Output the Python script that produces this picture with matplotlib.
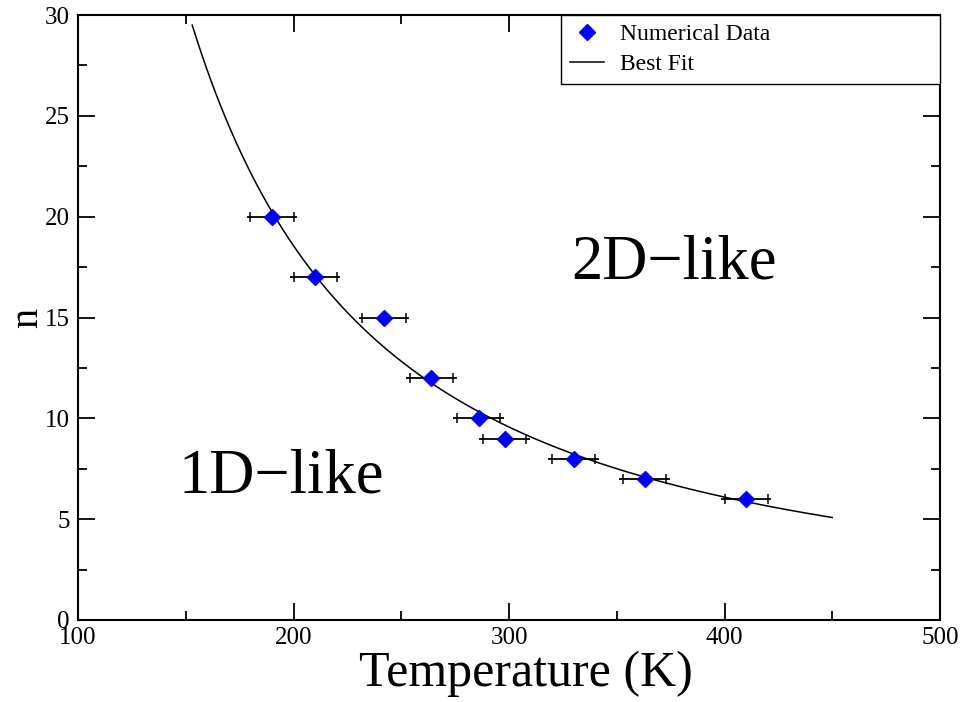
import numpy as np
import matplotlib
matplotlib.use("Agg")
import matplotlib.pyplot as plt
from matplotlib.ticker import MultipleLocator

# Simulated crossover points: temperature (K) vs. n
temperature = [190, 210, 242, 264, 286, 298, 330, 363, 410]
n_values = [20, 17, 15, 12, 10, 9, 8, 7, 6]
temp_err = [10, 10, 10, 10, 10, 10, 10, 10, 10]

# Best fit n = A * (T - T0)**(-p)
fit_A = 29010.0
fit_T0 = 30.0
fit_p = 1.432
fit_T_range = (153.0, 450.0)

region_labels = ["1D\u2212like", "2D\u2212like"]
region_pos = [(146.5, 6.3), (328.8, 16.95)]

plt.rcParams["font.family"] = ["Liberation Serif", "DejaVu Serif"]

fig = plt.figure(figsize=(9.63, 7.02), dpi=100)
ax = fig.add_axes([78 / 963, 1 - 620 / 702, (940 - 78) / 963, (620 - 15) / 702])

# horizontal error bars with short overhang past the caps
T = np.asarray(temperature, float)
N = np.asarray(n_values, float)
E = np.asarray(temp_err, float)
overhang = 1.8
ax.hlines(N, T - E - overhang, T + E + overhang, color="black", lw=1.3, zorder=2)
ax.plot(T - E, N, ls="none", marker="|", ms=7.5, mew=1.1, color="black", zorder=2)
ax.plot(T + E, N, ls="none", marker="|", ms=7.5, mew=1.1, color="black", zorder=2)

ax.plot(T, N, ls="none", marker="D", ms=8.2, color="#0000ff", mec="#0000ff",
        zorder=3, label="Numerical Data")

Tf = np.linspace(fit_T_range[0], fit_T_range[1], 400)
ax.plot(Tf, fit_A * (Tf - fit_T0) ** (-fit_p), color="black", lw=1.1, zorder=2.5,
        label="Best Fit")

for txt, (x, y) in zip(region_labels, region_pos):
    ax.text(x, y, txt, fontsize=45, ha="left", va="baseline")

ax.set_xlim(100, 500)
ax.set_ylim(0, 30)
ax.xaxis.set_major_locator(MultipleLocator(100))
ax.xaxis.set_minor_locator(MultipleLocator(50))
ax.yaxis.set_major_locator(MultipleLocator(5))
ax.yaxis.set_minor_locator(MultipleLocator(2.5))
ax.tick_params(which="both", direction="in", top=True, right=True, width=1.3,
               labelsize=18)
ax.tick_params(which="major", length=12.5)
ax.tick_params(which="minor", length=6.2)
ax.tick_params(axis="x", pad=5)
ax.tick_params(axis="y", pad=6)
for sp in ax.spines.values():
    sp.set_linewidth(1.5)

ax.set_xlabel("Temperature (K)", fontsize=36)
ax.xaxis.set_label_coords((526 - 78) / 862, -0.05)
ax.set_ylabel("n", fontsize=29)
ax.yaxis.set_label_coords((46 - 78) / 862, 0.5)

leg = ax.legend(loc="upper left", bbox_to_anchor=((561 - 78) / 862, 0, (940 - 561) / 862, 1.0),
                mode="expand", borderaxespad=0, fontsize=17, frameon=True, fancybox=False,
                framealpha=1.0, handlelength=1.45, handletextpad=0.7, labelspacing=0.36,
                borderpad=0.36, markerscale=1.05)
leg.get_frame().set_edgecolor("black")
leg.get_frame().set_linewidth(1.0)

fig.savefig("out.png", dpi=100)
